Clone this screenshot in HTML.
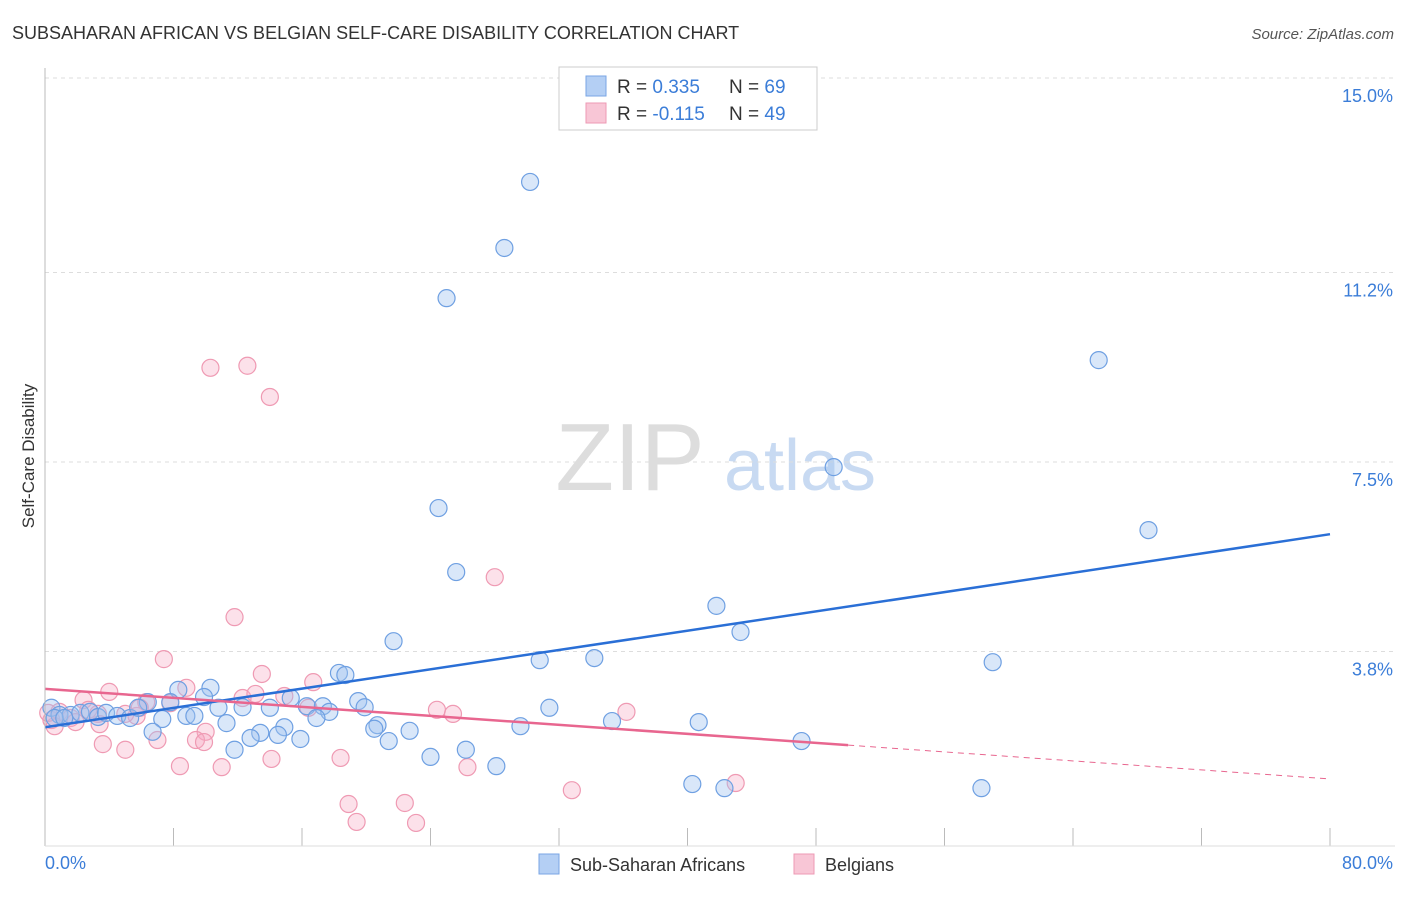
<!DOCTYPE html>
<html><head><meta charset="utf-8"><style>
body{margin:0;background:#fff;font-family:"Liberation Sans",sans-serif}
svg text{font-family:"Liberation Sans",sans-serif}
</style></head><body>
<svg id="c" width="1406" height="892">
<text x="12" y="39" font-size="18" fill="#333">SUBSAHARAN AFRICAN VS BELGIAN SELF-CARE DISABILITY CORRELATION CHART</text>
<text x="1394" y="39" font-size="15" fill="#555" font-style="italic" text-anchor="end">Source: ZipAtlas.com</text>
<text x="630" y="490" font-size="96" fill="#ddd" font-family="Liberation Serif" text-anchor="middle">ZIP</text>
<text x="800" y="490" font-size="72" fill="#c8daf2" text-anchor="middle">atlas</text>
<text transform="translate(34,456) rotate(-90)" font-size="17" fill="#333" text-anchor="middle">Self-Care Disability</text>
<g id="grid"></g><g id="pts"></g><g id="lines"></g>
<line x1="45" y1="68" x2="45" y2="846" stroke="#bbb"/>
<line x1="45" y1="846" x2="1395" y2="846" stroke="#ddd"/>
<text x="45" y="869" font-size="18" fill="#3b7dd8">0.0%</text>
<text x="1393" y="869" font-size="18" fill="#3b7dd8" text-anchor="end">80.0%</text>
<g>
<rect x="559" y="67" width="258" height="63" fill="#fff" stroke="#ccc"/>
<rect x="586" y="76" width="20" height="20" fill="#b4cff4" stroke="#7aa6e4"/>
<rect x="586" y="103" width="20" height="20" fill="#f8c6d6" stroke="#ee9ab4"/>
<text x="617" y="93" font-size="19" fill="#333">R = <tspan fill="#3b7dd8">0.335</tspan><tspan x="729">N = </tspan><tspan fill="#3b7dd8">69</tspan></text>
<text x="617" y="120" font-size="19" fill="#333">R = <tspan fill="#3b7dd8">-0.115</tspan><tspan x="729">N = </tspan><tspan fill="#3b7dd8">49</tspan></text>
</g>
<g>
<rect x="539" y="854" width="20" height="20" fill="#b4cff4" stroke="#7aa6e4"/>
<text x="570" y="871" font-size="18" fill="#333">Sub-Saharan Africans</text>
<rect x="794" y="854" width="20" height="20" fill="#f8c6d6" stroke="#ee9ab4"/>
<text x="825" y="871" font-size="18" fill="#333">Belgians</text>
</g>
</svg>
<script>
const yTicks=[15.0,11.2,7.5,3.8];
const yTickLabels=["15.0%","11.2%","7.5%","3.8%"];
const xTicks=[0,8,16,24,32,40,48,56,64,72,80];
const blueX=[30.2,28.6,25.0,65.6,49.1,68.7,24.5,25.6,41.8,43.3,21.7,59.0,30.8,34.2,18.3,18.7,10.3,8.3,9.9,6.4,7.8,15.3,19.5,16.3,17.3,19.9,17.7,31.4,14.0,12.3,10.8,8.8,9.3,7.3,16.9,35.3,40.7,29.6,20.7,20.5,22.7,14.9,13.4,11.3,6.7,14.5,12.8,15.9,21.4,47.1,11.8,26.2,24.0,28.1,40.3,42.3,58.3,0.4,0.9,1.6,2.2,2.8,3.3,3.8,4.5,5.3,5.8,0.6,1.2];
const blueY=[12.97,11.68,10.70,9.49,7.40,6.17,6.60,5.35,4.69,4.18,4.00,3.59,3.63,3.67,3.38,3.34,3.09,3.05,2.91,2.81,2.81,2.89,2.83,2.73,2.73,2.71,2.62,2.70,2.70,2.71,2.70,2.54,2.54,2.48,2.50,2.44,2.42,2.34,2.36,2.29,2.25,2.32,2.21,2.40,2.23,2.17,2.11,2.09,2.05,2.05,1.88,1.88,1.74,1.56,1.21,1.13,1.13,2.70,2.56,2.56,2.60,2.62,2.52,2.60,2.54,2.50,2.70,2.50,2.50];
const pinkX=[10.3,12.6,14.0,28.0,11.8,7.4,13.5,16.7,8.8,4.0,2.4,6.3,7.8,12.3,13.1,14.9,16.4,24.4,25.4,36.2,5.7,5.0,3.3,0.9,1.6,1.9,0.4,0.6,3.4,10.0,9.4,9.9,7.0,3.6,5.0,14.1,18.4,26.3,8.4,11.0,43.0,32.8,18.9,22.4,19.4,23.1,0.2,2.7,5.9];
const pinkY=[9.34,9.38,8.77,5.25,4.47,3.65,3.36,3.20,3.09,3.01,2.85,2.81,2.79,2.89,2.97,2.93,2.70,2.66,2.58,2.62,2.54,2.58,2.58,2.62,2.50,2.42,2.46,2.34,2.38,2.23,2.07,2.03,2.07,1.99,1.88,1.70,1.72,1.54,1.56,1.54,1.23,1.09,0.82,0.84,0.47,0.45,2.60,2.66,2.70];
const blueTrend=[[0,2.32],[80,6.09]];
const pinkTrend=[[0,3.07],[50,1.97]];
const pinkTrendExt=[[50,1.97],[80,1.31]];
const NS="http://www.w3.org/2000/svg";
const X=v=>45+v*(1285/80), Y=v=>846-v*51.2;
function mk(tag,parent,attrs){const e=document.createElementNS(NS,tag);for(const k in attrs)e.setAttribute(k,attrs[k]);parent.appendChild(e);return e;}
const grid=document.getElementById('grid');
yTicks.forEach((t,i)=>{
 const l=mk('line',grid,{x1:45,x2:1395,y1:Y(t),y2:Y(t),stroke:'#ddd','stroke-dasharray':'4,4'});
 
 
 const tx=mk('text',grid,{x:1393,y:Y(t)+24,'font-size':18,fill:'#3b7dd8','text-anchor':'end'});
 tx.textContent=yTickLabels[i];
 
 
});
xTicks.forEach(t=>{
 const l=mk('line',grid,{x1:X(t),x2:X(t),y1:828,y2:846,stroke:'#bbb'});
 
 
});
const pts=document.getElementById('pts');
pinkX.forEach((x,i)=>{
 const c=mk('circle',pts,{cx:X(x),cy:Y(pinkY[i]),r:8.5,fill:'rgba(246,170,196,0.35)',stroke:'#ef9ab3','stroke-width':1.2});
 
 
});
blueX.forEach((x,i)=>{
 const c=mk('circle',pts,{cx:X(x),cy:Y(blueY[i]),r:8.5,fill:'rgba(160,195,240,0.4)',stroke:'#6fa0e2','stroke-width':1.2});
 
 
});
const lines=document.getElementById('lines');
const b=mk('line',lines,{x1:X(blueTrend[0][0]),y1:Y(blueTrend[0][1]),x2:X(blueTrend[1][0]),y2:Y(blueTrend[1][1]),stroke:'#2a6fd6','stroke-width':2.5});


const p=mk('line',lines,{x1:X(pinkTrend[0][0]),y1:Y(pinkTrend[0][1]),x2:X(pinkTrend[1][0]),y2:Y(pinkTrend[1][1]),stroke:'#e8668f','stroke-width':2.5});


const pd=mk('line',lines,{x1:X(pinkTrendExt[0][0]),y1:Y(pinkTrendExt[0][1]),x2:X(pinkTrendExt[1][0]),y2:Y(pinkTrendExt[1][1]),stroke:'#e8668f','stroke-width':1,'stroke-dasharray':'6,5'});


</script>
</body></html>
